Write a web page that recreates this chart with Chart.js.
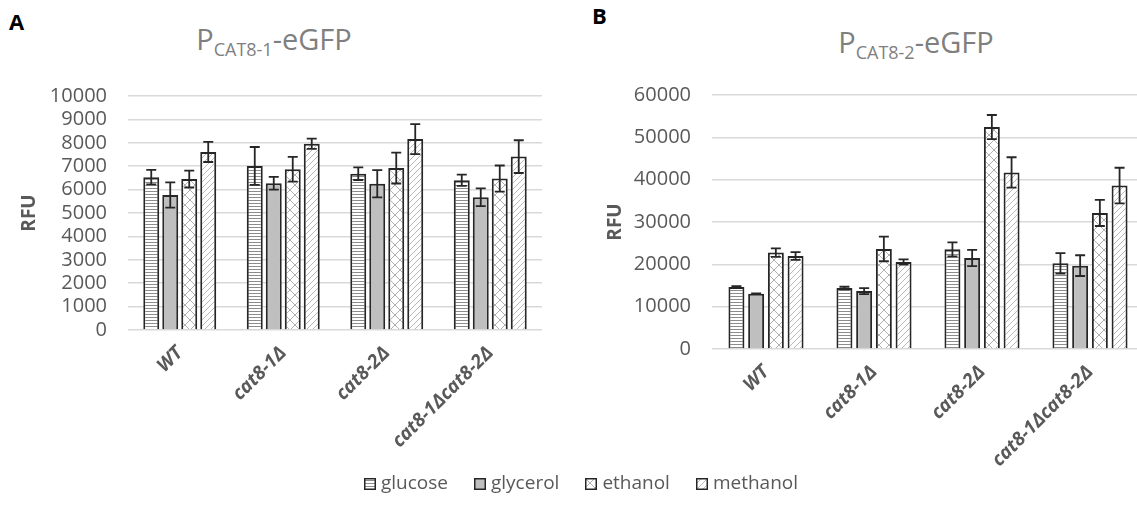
<!DOCTYPE html>
<html>
<head>
<meta charset="utf-8">
<script src="https://cdn.jsdelivr.net/npm/chart.js@4"></script>
<style>
  html, body { margin: 0; padding: 0; background: #fff; overflow: hidden; }
  body { width: 1137px; height: 505px; position: relative; font-family: "Open Sans", sans-serif; }
  canvas { position: absolute; top: 0; }
  .panel { position: absolute; font-weight: bold; font-size: 22px; color: #000; }
  .title { position: absolute; width: 300px; text-align: center; color: #7f7f7f; font-size: 29px; line-height: 34px; }
  .title sub { font-size: 18px; vertical-align: -6px; }
  #legend { position: absolute; left: 0; top: 469px; width: 1162px; text-align: center; font-size: 19px; color: #595959; }
  #legend span.item { display: inline-block; margin: 0 13px; }
  #legend canvas { position: static; vertical-align: -1px; margin-right: 5px; }
</style>
</head>
<body>
<div class="panel" style="left:9px; top:6px;">A</div>
<div class="panel" style="left:592px; top:0px;">B</div>
<div class="title" style="left:124px; top:22px;">P<sub>CAT8-1</sub>-eGFP</div>
<div class="title" style="left:766px; top:25px;">P<sub>CAT8-2</sub>-eGFP</div>
<canvas id="chartA" width="560" height="460" style="left:0px;"></canvas>
<canvas id="chartB" width="578" height="479" style="left:584px;"></canvas>
<div id="legend"></div>

<script>
// strains and carbon sources
const strains = ["WT", "cat8-1Δ", "cat8-2Δ", "cat8-1Δcat8-2Δ"];
const sources = ["glucose", "glycerol", "ethanol", "methanol"];

// P_CAT8-1-eGFP (RFU) and standard deviations
const glucoseA = [6530, 7010, 6680, 6400];
const glycerolA = [5770, 6270, 6250, 5670];
const ethanolA = [6450, 6870, 6920, 6470];
const methanolA = [7610, 7960, 8160, 7410];
const glucoseErrA = [310, 810, 270, 240];
const glycerolErrA = [540, 270, 580, 380];
const ethanolErrA = [360, 530, 660, 560];
const methanolErrA = [430, 220, 640, 700];

// P_CAT8-2-eGFP (RFU) and standard deviations
const glucoseB = [14630, 14400, 23550, 20240];
const glycerolB = [13060, 13680, 21500, 19690];
const ethanolB = [22770, 23630, 52430, 32150];
const methanolB = [21970, 20550, 41700, 38620];
const glucoseErrB = [200, 300, 1650, 2400];
const glycerolErrB = [100, 700, 1900, 2450];
const ethanolErrB = [1000, 2900, 2850, 3100];
const methanolErrB = [900, 600, 3600, 4200];

// y axis ticks
const ticksA = [0, 1000, 2000, 3000, 4000, 5000, 6000, 7000, 8000, 9000, 10000];
const ticksB = [0, 10000, 20000, 30000, 40000, 50000, 60000];

const FONT = "'Open Sans', sans-serif";
const TEXT = "#595959";

// fill patterns for each carbon source
function makePattern(kind) {
  const c = document.createElement("canvas");
  const x = c.getContext("2d");
  if (kind === "glucose") {
    c.width = 4; c.height = 3;
    x.fillStyle = "#fff"; x.fillRect(0, 0, 4, 3);
    x.fillStyle = "#8c8c8c"; x.fillRect(0, 2, 4, 1);
  } else if (kind === "glycerol") {
    c.width = 4; c.height = 4;
    x.fillStyle = "#bfbfbf"; x.fillRect(0, 0, 4, 4);
  } else if (kind === "ethanol") {
    c.width = 10; c.height = 10;
    x.fillStyle = "#fff"; x.fillRect(0, 0, 10, 10);
    x.strokeStyle = "#b0b0b0"; x.lineWidth = 1;
    x.beginPath();
    x.moveTo(0, 0); x.lineTo(10, 10);
    x.moveTo(10, 0); x.lineTo(0, 10);
    x.stroke();
  } else {
    c.width = 6; c.height = 6;
    x.fillStyle = "#fff"; x.fillRect(0, 0, 6, 6);
    x.strokeStyle = "#b8b8b8"; x.lineWidth = 1;
    x.beginPath();
    x.moveTo(-1, 7); x.lineTo(7, -1);
    x.moveTo(-1, 1); x.lineTo(1, -1);
    x.moveTo(5, 7); x.lineTo(7, 5);
    x.stroke();
  }
  return x.createPattern(c, "repeat");
}

// error bars drawn on top of the bars
const errorBars = {
  id: "errorBars",
  afterDatasetsDraw(chart) {
    const ctx = chart.ctx;
    const y = chart.scales.y;
    ctx.save();
    ctx.strokeStyle = "#262626";
    ctx.lineWidth = 1.8;
    chart.data.datasets.forEach((ds, i) => {
      chart.getDatasetMeta(i).data.forEach((bar, j) => {
        const v = ds.data[j], e = ds.errors[j];
        const top = y.getPixelForValue(v + e);
        const bot = y.getPixelForValue(v - e);
        ctx.beginPath();
        ctx.moveTo(bar.x, top); ctx.lineTo(bar.x, bot);
        ctx.moveTo(bar.x - 5, top); ctx.lineTo(bar.x + 5, top);
        ctx.moveTo(bar.x - 5, bot); ctx.lineTo(bar.x + 5, bot);
        ctx.stroke();
      });
    });
    ctx.restore();
  }
};

function makeChart(id, series, errs, ticks, opts) {
  const datasets = sources.map((name, i) => ({
    label: name,
    data: series[i],
    errors: errs[i],
    backgroundColor: makePattern(name),
    borderColor: "#262626",
    borderWidth: 2,
    categoryPercentage: opts.catPct,
    barPercentage: opts.barPct
  }));
  return new Chart(document.getElementById(id), {
    type: "bar",
    data: { labels: strains, datasets: datasets },
    options: {
      responsive: false,
      animation: false,
      layout: { padding: { top: opts.top, right: 18, left: 0, bottom: 0 } },
      plugins: { legend: { display: false }, tooltip: { enabled: false } },
      scales: {
        x: {
          grid: { display: false },
          border: { display: false },
          ticks: {
            color: TEXT,
            font: { family: FONT, size: 19, weight: "bold", style: "italic" },
            minRotation: 45,
            maxRotation: 45,
            padding: 4
          },
          afterFit: (s) => { s.height = 130; }
        },
        y: {
          min: 0,
          max: ticks[ticks.length - 1],
          border: { display: false },
          grid: { color: "#d9d9d9", lineWidth: 1.5, drawTicks: false },
          afterBuildTicks: (s) => { s.ticks = ticks.map((v) => ({ value: v })); },
          ticks: {
            color: TEXT,
            font: { family: FONT, size: 20 },
            padding: 21,
            autoSkip: false,
            callback: (v) => String(v)
          },
          title: {
            display: true,
            text: "RFU",
            color: TEXT,
            font: { family: FONT, size: 19, weight: "bold" },
            padding: { top: opts.titlePad, bottom: 0 }
          },
          afterFit: (s) => { s.width = 128; }
        }
      }
    },
    plugins: [errorBars]
  });
}

makeChart("chartA",
  [glucoseA, glycerolA, ethanolA, methanolA],
  [glucoseErrA, glycerolErrA, ethanolErrA, methanolErrA],
  ticksA, { top: 96, catPct: 0.734, barPct: 0.84, titlePad: 18 });

makeChart("chartB",
  [glucoseB, glycerolB, ethanolB, methanolB],
  [glucoseErrB, glycerolErrB, ethanolErrB, methanolErrB],
  ticksB, { top: 95, catPct: 0.73, barPct: 0.81, titlePad: 20 });

// shared legend
const legend = document.getElementById("legend");
sources.forEach((name) => {
  const item = document.createElement("span");
  item.className = "item";
  const sw = document.createElement("canvas");
  sw.width = 12; sw.height = 12;
  const g = sw.getContext("2d");
  g.fillStyle = makePattern(name);
  g.fillRect(0, 0, 12, 12);
  g.strokeStyle = "#262626";
  g.lineWidth = 1.5;
  g.strokeRect(0.75, 0.75, 10.5, 10.5);
  item.appendChild(sw);
  item.appendChild(document.createTextNode(name));
  legend.appendChild(item);
});
</script>
</body>
</html>
